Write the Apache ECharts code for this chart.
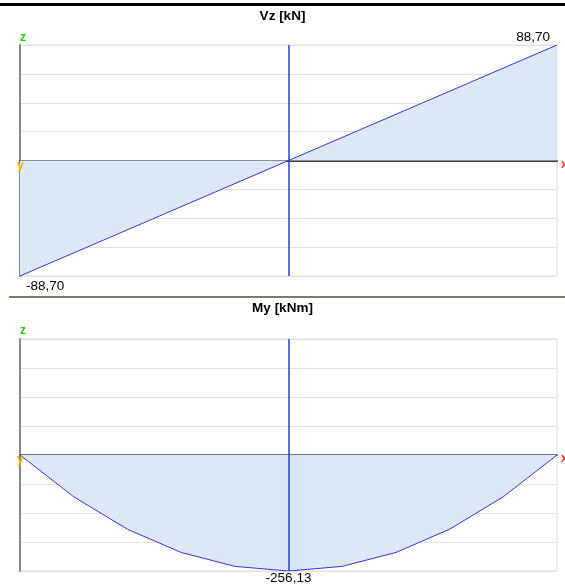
<!DOCTYPE html>
<html>
<head>
<meta charset="utf-8">
<script src="https://cdn.jsdelivr.net/npm/echarts@6/dist/echarts.min.js"></script>
<style>
  html, body { margin: 0; padding: 0; background: #fff; }
  #chart { width: 565px; height: 587px; }
</style>
</head>
<body>
<div id="chart"></div>
<script>
// Beam stations along the span [m]
const shearStations = [0, 11.55];
const shearVz = [-88.70, 88.70];            // Vz [kN]

const momentStations = [0, 1.155, 2.31, 3.465, 4.62, 5.775, 6.93, 8.085, 9.24, 10.395, 11.55];
const momentMy = [0, -92.2, -163.9, -215.2, -245.9, -256.13, -245.9, -215.2, -163.9, -92.2, 0]; // My [kNm]

const spanLength = 11.55;
const shearLimit = 88.70;
const momentLimit = 256.13;

const fmt = v => v.toFixed(2).replace('.', ',');

const lineColor = '#3434d0';
const fillColor = '#dce7f8';
const labelFont = { color: '#000', fontSize: 13.5, fontFamily: 'Liberation Sans, Arial, sans-serif' };

function shearData() {
  return shearStations.map((x, i) => {
    const v = shearVz[i];
    const item = { value: [x, v] };
    if (v > 0) {
      item.label = { show: true, position: 'top', align: 'right', offset: [-7, 4], formatter: fmt(v), ...labelFont };
    } else {
      item.label = { show: true, position: 'bottom', align: 'left', offset: [6, -2], formatter: fmt(v), ...labelFont };
    }
    return item;
  });
}

function momentData() {
  const minV = Math.min(...momentMy);
  return momentStations.map((x, i) => {
    const v = momentMy[i];
    const item = { value: [x, v] };
    if (v === minV) {
      item.label = { show: true, position: 'bottom', distance: 0, formatter: fmt(v), ...labelFont };
    }
    return item;
  });
}

function makeY(idx, limit) {
  return {
    gridIndex: idx, type: 'value',
    min: -limit, max: limit, interval: limit / 4,
    axisLabel: { show: false }, axisTick: { show: false },
    axisLine: { show: true, lineStyle: { color: '#888', width: 2 } },
    splitLine: { show: true, lineStyle: { color: '#e2e2e2', width: 1 } }
  };
}

function makeX(idx, zeroColor) {
  return {
    gridIndex: idx, type: 'value',
    min: 0, max: spanLength,
    axisLabel: { show: false }, axisTick: { show: false },
    axisLine: { show: true, onZero: true, lineStyle: { color: zeroColor, width: 2 } },
    splitLine: { show: false }
  };
}

const centreLine = {
  silent: true, symbol: 'none', label: { show: false },
  lineStyle: { color: '#2040d8', width: 1.5, type: 'solid' },
  data: [{ xAxis: spanLength / 2 }]
};

const titleStyle = { fontSize: 13.5, fontWeight: 'bold', color: '#000', fontFamily: 'Liberation Sans, Arial, sans-serif' };
const axisLetter = (text, color, x, y) => ({
  type: 'text', left: x, top: y, z: 100,
  style: { text, fill: color, font: 'bold 12px Liberation Sans, Arial, sans-serif' }
});

const chart = echarts.init(document.getElementById('chart'), null, { renderer: 'canvas' });
chart.setOption({
  animation: false,
  title: [
    { text: 'Vz [kN]', left: 'center', top: 9, textStyle: titleStyle, padding: 0 },
    { text: 'My [kNm]', left: 'center', top: 301, textStyle: titleStyle, padding: 0 }
  ],
  grid: [
    { left: 20, top: 45, width: 537, height: 231, show: true, borderColor: '#dedede', borderWidth: 1, backgroundColor: 'transparent' },
    { left: 20, top: 339, width: 537, height: 232, show: true, borderColor: '#dedede', borderWidth: 1, backgroundColor: 'transparent' }
  ],
  xAxis: [makeX(0, '#3a3a3a'), makeX(1, '#777')],
  yAxis: [makeY(0, shearLimit), makeY(1, momentLimit)],
  series: [
    {
      type: 'line', xAxisIndex: 0, yAxisIndex: 0,
      data: shearData(), symbol: 'circle', symbolSize: 0, showSymbol: true,
      lineStyle: { color: lineColor, width: 1 },
      itemStyle: { color: lineColor },
      areaStyle: { color: fillColor, opacity: 1, origin: 0 },
      markLine: centreLine, z: 3
    },
    {
      type: 'line', xAxisIndex: 1, yAxisIndex: 1,
      data: momentData(), symbol: 'circle', symbolSize: 0, showSymbol: true,
      lineStyle: { color: lineColor, width: 1 },
      itemStyle: { color: lineColor },
      areaStyle: { color: fillColor, opacity: 1, origin: 0 },
      markLine: centreLine, z: 3
    }
  ],
  graphic: [
    { type: 'rect', z: 100, shape: { x: 0, y: 3, width: 565, height: 3 }, style: { fill: '#000' } },
    { type: 'rect', z: 100, shape: { x: 9, y: 296, width: 556, height: 2 }, style: { fill: '#7b7a66' } },
    axisLetter('z', '#2ecc00', 20, 32),
    axisLetter('y', '#f2b400', 17, 160),
    axisLetter('x', '#ff3333', 561, 159),
    axisLetter('z', '#2ecc00', 20, 325),
    axisLetter('y', '#f2b400', 17, 454),
    axisLetter('x', '#ff3333', 561, 453)
  ]
});
</script>
</body>
</html>
